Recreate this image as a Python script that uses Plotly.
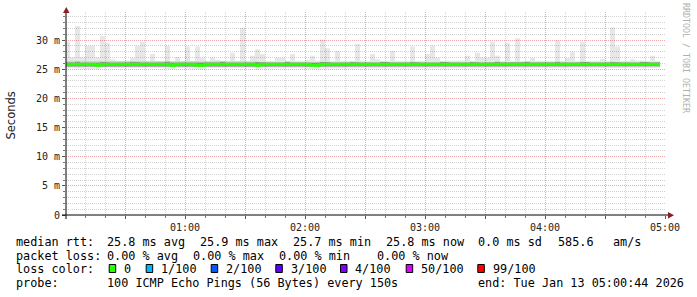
import pandas as pd
import plotly.graph_objects as go

# ---------------- data ----------------
step_origin = "2026-01-13 00:00:00"
range_start = "2026-01-13 00:00:30"
range_end = "2026-01-13 05:00:30"
step_seconds = 150

# upper edge of the smoke (ms) per 150 s step
smoke_max = [
    29.7, 27.0, 32.4, 27.0, 29.0, 29.0, 27.0, 30.7, 29.5, 26.7,
    26.4, 26.4, 26.5, 26.9, 29.0, 29.7, 26.4, 27.6, 26.4, 26.4,
    29.0, 26.4, 27.1, 26.4, 28.9, 26.4, 28.9, 26.9, 26.4, 27.0,
    26.6, 26.4, 26.4, 27.8, 26.4, 32.1, 26.4, 27.3, 28.4, 27.6,
    26.4, 26.4, 27.0, 26.9, 26.4, 27.6, 26.4, 26.4, 26.6, 27.3,
    26.5, 30.1, 28.6, 26.4, 28.1, 26.4, 26.4, 26.4, 29.3, 26.5,
    26.4, 27.6, 26.7, 26.4, 26.4, 28.1, 26.4, 26.4, 26.4, 28.9,
    26.4, 26.4, 27.6, 29.0, 27.0, 26.4, 26.4, 26.4, 26.4, 26.5,
    27.3, 26.4, 27.8, 27.0, 27.0, 29.7, 27.3, 26.4, 29.5, 26.4,
    30.3, 26.4, 26.4, 26.9, 26.4, 26.4, 26.4, 26.4, 29.9, 26.4,
    26.9, 28.0, 26.4, 29.7, 26.4, 26.4, 26.4, 26.8, 26.4, 32.2,
    28.9, 26.4, 26.4, 26.7, 26.5, 26.4, 26.4, 27.3, 26.4,
]

# lower edge of the smoke (ms)
smoke_min = [
    25.1, 25.2, 25.1, 25.0, 25.1, 25.1, 25.0, 25.2, 25.1, 25.1,
    25.2, 25.1, 25.1, 25.2, 25.1, 25.1, 25.2, 25.1, 25.1, 25.2,
    25.1, 25.0, 25.1, 25.2, 25.1, 25.1, 25.0, 25.0, 25.2, 25.1,
    25.1, 25.2, 25.1, 25.1, 25.2, 25.1, 25.1, 25.2, 25.0, 25.1,
    25.2, 25.1, 25.1, 25.2, 25.1, 25.1, 25.2, 25.1, 25.1, 25.0,
    25.0, 25.1, 25.2, 25.1, 25.1, 25.2, 25.1, 25.1, 25.2, 25.1,
    25.1, 25.2, 25.1, 25.1, 25.2, 25.1, 25.1, 25.2, 25.1, 25.1,
    25.2, 25.1, 25.1, 25.2, 25.1, 25.1, 25.2, 25.1, 25.1, 25.2,
    25.1, 25.1, 25.2, 25.1, 25.1, 25.2, 25.1, 25.1, 25.2, 25.1,
    25.1, 25.2, 25.1, 25.1, 25.2, 25.1, 25.1, 25.2, 25.1, 25.1,
    25.2, 25.1, 25.1, 25.2, 25.1, 25.1, 25.2, 25.1, 25.1, 25.2,
    25.1, 25.1, 25.2, 25.1, 25.1, 25.2, 25.1, 25.1, 25.2,
]

# inner (denser) part of the smoke (ms)
band_lo = [
    25.35, 25.40, 25.35, 25.30, 25.35, 25.40, 25.30, 25.35, 25.40, 25.35,
    25.40, 25.35, 25.35, 25.40, 25.35, 25.35, 25.40, 25.35, 25.40, 25.35,
    25.35, 25.30, 25.35, 25.40, 25.35, 25.35, 25.30, 25.30, 25.40, 25.35,
    25.35, 25.40, 25.35, 25.35, 25.40, 25.35, 25.35, 25.40, 25.30, 25.35,
    25.40, 25.35, 25.35, 25.40, 25.35, 25.35, 25.40, 25.35, 25.35, 25.30,
    25.30, 25.35, 25.40, 25.35, 25.35, 25.40, 25.35, 25.35, 25.40, 25.35,
    25.35, 25.40, 25.35, 25.35, 25.40, 25.35, 25.35, 25.40, 25.35, 25.35,
    25.40, 25.35, 25.35, 25.40, 25.35, 25.35, 25.40, 25.35, 25.35, 25.40,
    25.35, 25.35, 25.40, 25.35, 25.35, 25.40, 25.35, 25.35, 25.40, 25.35,
    25.35, 25.40, 25.35, 25.35, 25.40, 25.35, 25.35, 25.40, 25.35, 25.35,
    25.40, 25.35, 25.35, 25.40, 25.35, 25.35, 25.40, 25.35, 25.35, 25.40,
    25.35, 25.35, 25.40, 25.35, 25.35, 25.40, 25.35, 25.35, 25.40,
]
band_hi = [
    26.35, 26.30, 26.40, 26.35, 26.35, 26.30, 26.35, 26.40, 26.35, 26.30,
    26.35, 26.30, 26.35, 26.35, 26.40, 26.35, 26.30, 26.35, 26.30, 26.35,
    26.35, 26.30, 26.35, 26.30, 26.35, 26.30, 26.35, 26.30, 26.30, 26.35,
    26.30, 26.30, 26.35, 26.35, 26.30, 26.40, 26.30, 26.35, 26.35, 26.35,
    26.30, 26.30, 26.35, 26.35, 26.30, 26.35, 26.30, 26.30, 26.35, 26.35,
    26.30, 26.40, 26.35, 26.30, 26.35, 26.30, 26.30, 26.30, 26.35, 26.30,
    26.30, 26.35, 26.35, 26.30, 26.30, 26.35, 26.30, 26.30, 26.30, 26.35,
    26.30, 26.30, 26.35, 26.35, 26.35, 26.30, 26.30, 26.30, 26.30, 26.30,
    26.35, 26.30, 26.35, 26.35, 26.35, 26.40, 26.35, 26.30, 26.35, 26.30,
    26.40, 26.30, 26.30, 26.35, 26.30, 26.30, 26.30, 26.30, 26.35, 26.30,
    26.35, 26.35, 26.30, 26.35, 26.30, 26.30, 26.30, 26.35, 26.30, 26.40,
    26.35, 26.30, 26.30, 26.35, 26.30, 26.30, 26.30, 26.35, 26.30,
]
# darkest core of the smoke around the median (ms)
core_lo = [
    25.45, 25.55, 25.50, 25.45, 25.55, 25.50, 25.45, 25.55, 25.50, 25.55,
    25.50, 25.55, 25.45, 25.50, 25.55, 25.50, 25.55, 25.50, 25.45, 25.55,
    25.50, 25.45, 25.55, 25.50, 25.55, 25.50, 25.45, 25.45, 25.55, 25.50,
    25.55, 25.50, 25.55, 25.50, 25.45, 25.55, 25.50, 25.55, 25.45, 25.50,
    25.55, 25.50, 25.45, 25.55, 25.50, 25.55, 25.50, 25.45, 25.50, 25.45,
    25.45, 25.55, 25.50, 25.55, 25.45, 25.50, 25.55, 25.50, 25.55, 25.45,
    25.50, 25.55, 25.50, 25.45, 25.55, 25.50, 25.55, 25.50, 25.45, 25.55,
    25.50, 25.55, 25.45, 25.50, 25.55, 25.50, 25.45, 25.55, 25.50, 25.55,
    25.50, 25.45, 25.55, 25.50, 25.55, 25.50, 25.45, 25.55, 25.50, 25.55,
    25.45, 25.50, 25.55, 25.50, 25.45, 25.55, 25.50, 25.55, 25.50, 25.45,
    25.55, 25.50, 25.55, 25.45, 25.50, 25.55, 25.50, 25.45, 25.55, 25.50,
    25.45, 25.55, 25.50, 25.55, 25.45, 25.50, 25.55, 25.50, 25.50,
]
core_hi = [
    26.20, 26.10, 26.25, 26.10, 26.15, 26.20, 26.10, 26.25, 26.15, 26.10,
    26.20, 26.10, 26.15, 26.25, 26.20, 26.10, 26.15, 26.20, 26.10, 26.15,
    26.25, 26.10, 26.20, 26.15, 26.10, 26.20, 26.15, 26.10, 26.20, 26.10,
    26.15, 26.25, 26.10, 26.20, 26.15, 26.10, 26.20, 26.10, 26.25, 26.15,
    26.10, 26.20, 26.15, 26.10, 26.25, 26.10, 26.15, 26.20, 26.10, 26.15,
    26.10, 26.25, 26.20, 26.10, 26.15, 26.20, 26.10, 26.25, 26.15, 26.10,
    26.20, 26.15, 26.10, 26.25, 26.20, 26.10, 26.15, 26.20, 26.10, 26.25,
    26.15, 26.10, 26.20, 26.15, 26.10, 26.25, 26.20, 26.10, 26.15, 26.20,
    26.10, 26.25, 26.15, 26.10, 26.20, 26.15, 26.25, 26.10, 26.20, 26.15,
    26.10, 26.20, 26.25, 26.10, 26.15, 26.20, 26.10, 26.15, 26.25, 26.10,
    26.20, 26.15, 26.10, 26.25, 26.20, 26.10, 26.15, 26.20, 26.10, 26.25,
    26.15, 26.10, 26.20, 26.15, 26.10, 26.25, 26.20, 26.10, 26.15,
]

# median round-trip time (ms), green = 0 loss
median_rtt = [
    25.83, 25.83, 25.83, 25.83, 25.83, 25.83, 25.66, 25.83, 25.83, 25.83,
    25.83, 25.83, 25.83, 25.83, 25.83, 25.83, 25.83, 25.83, 25.83, 25.83,
    25.83, 25.66, 25.83, 25.83, 25.83, 25.83, 25.66, 25.66, 25.83, 25.83,
    25.83, 25.83, 25.83, 25.83, 25.83, 25.83, 25.83, 25.83, 25.66, 25.83,
    25.83, 25.83, 25.83, 25.83, 25.83, 25.83, 25.83, 25.83, 25.83, 25.66,
    25.66, 25.83, 25.83, 25.83, 25.83, 25.83, 25.83, 25.83, 25.83, 25.83,
    25.83, 25.83, 25.83, 25.83, 25.83, 25.83, 25.83, 25.83, 25.83, 25.83,
    25.83, 25.83, 25.83, 25.83, 25.83, 25.83, 25.83, 25.83, 25.83, 25.83,
    25.83, 25.83, 25.83, 25.83, 25.83, 25.83, 25.83, 25.83, 25.83, 25.83,
    25.83, 25.83, 25.83, 25.83, 25.83, 25.83, 25.83, 25.83, 25.83, 25.83,
    25.83, 25.83, 25.83, 25.83, 25.83, 25.83, 25.83, 25.83, 25.83, 25.83,
    25.83, 25.83, 25.83, 25.83, 25.83, 25.83, 25.83, 25.83, 25.83,
]

y_ticks = [0, 5, 10, 15, 20, 25, 30]
y_ticktext = ["0", "5 m", "10 m", "15 m", "20 m", "25 m", "30 m"]
y_top = 34.8

rtt_stats = ["25.8 ms avg", "25.9 ms max", "25.7 ms min", "25.8 ms now", "0.0 ms sd", "585.6", "am/s"]
loss_stats = ["0.00 % avg", "0.00 % max", "0.00 % min", "0.00 % now"]
loss_labels = ["0", "1/100", "2/100", "3/100", "4/100", "50/100", "99/100"]
loss_colors = ["#26ff00", "#00b8ff", "#0059ff", "#5e00ff", "#7e00ff", "#dd00ff", "#ff0000"]
probe_text = "100 ICMP Echo Pings (56 Bytes) every 150s"
end_text = "end: Tue Jan 13 05:00:44 2026"

# ---------------- geometry helpers ----------------
W, H = 697, 297
ML, MR, MT, MB = 66, 31, 12, 82
PW, PH = W - ML - MR, H - MT - MB


def xp(px):
    return (px - ML) / PW


def yp(py):
    return (H - MB - py) / PH


MONO = "DejaVu Sans Mono"

t0 = pd.Timestamp(step_origin)
n = len(median_rtt)
dt = pd.Timedelta(seconds=step_seconds)
step_start = [t0 + dt * k for k in range(n)]
step_end = [s + dt for s in step_start]

fig = go.Figure()


def smoke_layer(lo, hi, color):
    xs, ys = [], []
    for s, e, h in zip(step_start, step_end, hi):
        xs += [s, e]
        ys += [h, h]
    for s, e, l in zip(reversed(step_start), reversed(step_end), reversed(lo)):
        xs += [e, s]
        ys += [l, l]
    fig.add_trace(go.Scatter(
        x=xs, y=ys, mode="lines", fill="toself", fillcolor=color,
        line=dict(width=0, color=color), hoverinfo="skip", showlegend=False))


smoke_layer(smoke_min, smoke_max, "rgba(0,0,0,0.095)")
smoke_layer(band_lo, band_hi, "rgba(0,0,0,0.12)")
smoke_layer(core_lo, core_hi, "rgba(0,0,0,0.26)")

fig.add_trace(go.Scatter(
    x=step_start + [step_end[-1]], y=median_rtt + [median_rtt[-1]],
    mode="lines", line=dict(color=loss_colors[0], width=3, shape="hv"),
    hoverinfo="skip", showlegend=False))

# tick positions
rs, re_ = pd.Timestamp(range_start), pd.Timestamp(range_end)
half_hours = pd.date_range(rs.ceil("30min"), re_, freq="30min")
ten_mins = pd.date_range(rs.ceil("10min"), re_, freq="10min")
x_tickvals = list(half_hours)
x_ticktext = [t.strftime("%H:%M") if t.minute == 0 else "" for t in half_hours]
x_minor = [t for t in ten_mins if t.minute % 30 != 0]

RED = "#eaa8a8"
GREY = "#d2d2d2"

fig.update_layout(
    width=W, height=H, margin=dict(l=ML, r=MR, t=MT, b=MB, pad=0),
    paper_bgcolor="white", plot_bgcolor="white", showlegend=False,
    xaxis=dict(
        type="date", range=[rs, re_], tickmode="array",
        tickvals=x_tickvals, ticktext=x_ticktext,
        tickfont=dict(family=MONO, size=10, color="#222"),
        showgrid=True, gridcolor=RED, griddash="1px,1px", gridwidth=1,
        ticks="outside", ticklen=3, tickcolor="#555", tickwidth=1,
        zeroline=False, showline=False, fixedrange=True,
        minor=dict(tickvals=x_minor, showgrid=True, gridcolor=GREY,
                   griddash="1px,1px", gridwidth=1, ticks="outside",
                   ticklen=2, tickcolor="#777"),
    ),
    yaxis=dict(
        range=[0, y_top], tickmode="array", tickvals=y_ticks, ticktext=y_ticktext,
        tickfont=dict(family=MONO, size=10, color="#222"),
        showgrid=True, gridcolor=RED, griddash="1px,1px", gridwidth=1,
        ticks="outside", ticklen=3, tickcolor="#555", tickwidth=1,
        zeroline=False, showline=False, fixedrange=True,
        minor=dict(tickvals=[v for v in range(1, 35) if v % 5 != 0],
                   showgrid=True, gridcolor=GREY, griddash="1px,1px",
                   gridwidth=1, ticks="outside", ticklen=2, tickcolor="#777"),
    ),
)

# axes lines and arrows
ARROW = "#8c1f1f"
shapes = [
    dict(type="line", xref="paper", yref="paper", x0=xp(62), x1=xp(669),
         y0=yp(215), y1=yp(215), line=dict(color="black", width=1), layer="above"),
    dict(type="line", xref="paper", yref="paper", x0=xp(66), x1=xp(66),
         y0=yp(219), y1=yp(12), line=dict(color="black", width=1), layer="above"),
    dict(type="path", xref="paper", yref="paper",
         path=f"M {xp(63)} {yp(13)} L {xp(69.5)} {yp(13)} L {xp(66.3)} {yp(7)} Z",
         fillcolor=ARROW, line=dict(width=0), layer="above"),
    dict(type="path", xref="paper", yref="paper",
         path=f"M {xp(668)} {yp(212)} L {xp(668)} {yp(218.5)} L {xp(674)} {yp(215.2)} Z",
         fillcolor=ARROW, line=dict(width=0), layer="above"),
]

annotations = []


def text(px, py, s, size=11.8, family=MONO, color="#000", anchor="left", angle=0):
    annotations.append(dict(
        xref="paper", yref="paper", x=xp(px), y=yp(py), text=s.replace(" ", "\u00a0"),
        showarrow=False, xanchor=anchor, yanchor="middle", textangle=angle,
        font=dict(family=family, size=size, color=color), borderpad=0, borderwidth=0))


# y-axis title and watermark
text(10.5, 116, "Seconds", size=11.5, family="DejaVu Sans", color="#222", anchor="center", angle=-90)
text(686, 58, "RRDTOOL / TOBI OETIKER", size=8.3, color="#b0b0b0", anchor="center", angle=90)

# legend rows
row_y = [241.8, 255.5, 269.2, 282.9]
text(16, row_y[0], "median rtt:")
for px, s in zip([107.3, 200, 293.3, 386, 478.3, 558.3, 613.3], rtt_stats):
    text(px, row_y[0], s)
text(16, row_y[1], "packet loss:")
for px, s in zip([107.3, 193.3, 279.3, 377.3], loss_stats):
    text(px, row_y[1], s)
text(16, row_y[2], "loss color:")
sq_left = [108.7, 145.7, 210.7, 275.3, 340, 405.7, 477.3]
for px, s, c in zip(sq_left, loss_labels, loss_colors):
    shapes.append(dict(type="rect", xref="paper", yref="paper",
                       x0=xp(px + 0.5), x1=xp(px + 7), y0=yp(272.5), y1=yp(264.5),
                       fillcolor=c, line=dict(color="black", width=1), layer="above"))
    text(px + 15.3, row_y[2], s)
text(16, row_y[3], "probe:")
text(107.3, row_y[3], probe_text)
text(478.3, row_y[3], end_text)

fig.update_layout(shapes=shapes, annotations=annotations)
fig.write_html("out.html")
